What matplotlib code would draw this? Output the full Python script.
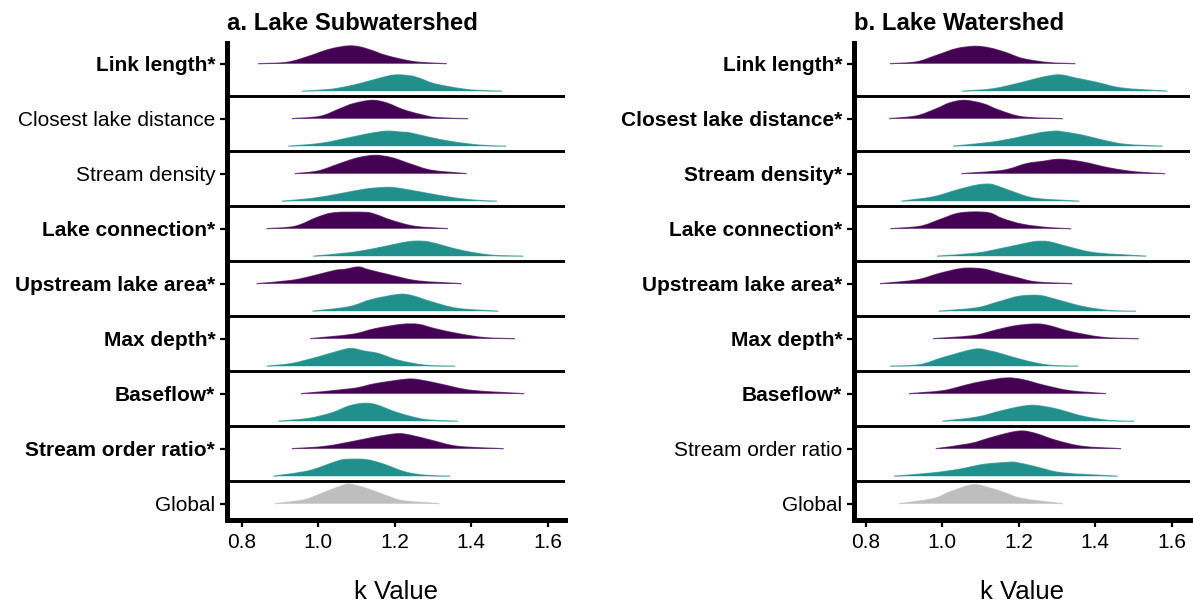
import numpy as np
import matplotlib
matplotlib.use("Agg")
import matplotlib.pyplot as plt
from matplotlib.path import Path
from matplotlib.patches import PathPatch

plt.rcParams['font.family'] = ['Liberation Sans', 'DejaVu Sans']

# Predictors, listed top to bottom; "Global" sits below them.
predictors = ["Link length", "Closest lake distance", "Stream density",
              "Lake connection", "Upstream lake area", "Max depth",
              "Baseflow", "Stream order ratio"]
global_label = "Global"

# Significant differences (marked with * and bold)
sub_signif = [True, False, False, True, True, True, True, True]
ws_signif = [True, True, True, True, True, True, True, False]

x_ticks = [0.8, 1.0, 1.2, 1.4, 1.6]

# ---- a. Lake Subwatershed: posterior density of k (knots: k value, density)
sub_low_k = [
    [0.843, 0.918, 0.979, 1.005, 1.039, 1.079, 1.109, 1.144, 1.170, 1.222, 1.266, 1.336],
    [0.931, 1.005, 1.057, 1.092, 1.140, 1.179, 1.222, 1.266, 1.310, 1.392],
    [0.939, 1.000, 1.061, 1.105, 1.149, 1.192, 1.244, 1.297, 1.388],
    [0.865, 0.939, 1.000, 1.044, 1.122, 1.149, 1.192, 1.253, 1.339],
    [0.839, 0.931, 0.992, 1.044, 1.070, 1.105, 1.131, 1.192, 1.262, 1.375],
    [0.979, 1.088, 1.149, 1.218, 1.262, 1.305, 1.366, 1.436, 1.514],
    [0.955, 1.088, 1.149, 1.227, 1.262, 1.323, 1.401, 1.538],
    [0.931, 1.018, 1.105, 1.157, 1.209, 1.244, 1.297, 1.366, 1.485],
]
sub_low_d = [
    [0, 0.43, 2.60, 3.80, 5.10, 5.90, 5.57, 4.23, 3.00, 1.33, 0.43, 0],
    [0, 0.77, 3.33, 5.00, 6.10, 5.23, 3.00, 1.43, 0.33, 0],
    [0, 0.90, 3.57, 5.33, 6.10, 5.33, 3.10, 1.10, 0],
    [0, 0.77, 3.90, 5.33, 5.43, 4.77, 2.77, 0.77, 0],
    [0, 1.10, 2.77, 4.43, 4.77, 5.57, 4.67, 2.77, 0.90, 0],
    [0, 1.43, 3.33, 4.77, 4.77, 3.33, 1.67, 0.33, 0],
    [0, 1.67, 3.33, 4.77, 4.67, 3.10, 1.10, 0],
    [0, 0.77, 2.77, 4.10, 5.00, 4.43, 2.77, 0.77, 0],
]
sub_high_k = [
    [0.957, 1.031, 1.092, 1.135, 1.196, 1.240, 1.266, 1.301, 1.353, 1.406, 1.480],
    [0.922, 1.005, 1.092, 1.135, 1.179, 1.218, 1.240, 1.292, 1.353, 1.423, 1.491],
    [0.905, 0.983, 1.061, 1.122, 1.175, 1.209, 1.279, 1.349, 1.410, 1.467],
    [0.987, 1.079, 1.149, 1.218, 1.253, 1.288, 1.332, 1.384, 1.454, 1.536],
    [0.985, 1.079, 1.140, 1.209, 1.244, 1.297, 1.366, 1.471],
    [0.865, 0.931, 1.000, 1.061, 1.088, 1.122, 1.157, 1.209, 1.279, 1.358],
    [0.896, 0.974, 1.035, 1.079, 1.114, 1.149, 1.209, 1.279, 1.365],
    [0.883, 0.974, 1.044, 1.070, 1.122, 1.166, 1.227, 1.279, 1.345],
]
sub_high_d = [
    [0, 0.57, 2.00, 3.43, 5.33, 5.10, 4.23, 2.57, 1.23, 0.33, 0],
    [0, 0.90, 3.10, 4.23, 5.00, 4.67, 4.43, 2.90, 1.43, 0.33, 0],
    [0, 0.90, 2.57, 4.00, 4.57, 4.33, 2.77, 1.23, 0.33, 0],
    [0, 1.10, 2.57, 4.43, 5.00, 4.77, 3.33, 1.67, 0.33, 0],
    [0, 1.43, 3.90, 5.57, 5.23, 3.10, 0.90, 0],
    [0, 0.90, 3.10, 5.33, 5.90, 5.00, 4.23, 2.00, 0.33, 0],
    [0, 0.90, 2.77, 5.00, 5.90, 5.57, 2.77, 0.57, 0],
    [0, 1.77, 4.77, 5.57, 5.57, 4.23, 1.43, 0.33, 0],
]
sub_global_k = [0.887, 0.952, 0.979, 1.022, 1.057, 1.079, 1.109, 1.144, 1.179, 1.222, 1.317]
sub_global_d = [0, 1.00, 1.90, 4.10, 5.77, 6.57, 5.77, 4.33, 2.67, 1.00, 0]

# ---- b. Lake Watershed
ws_low_k = [
    [0.863, 0.932, 0.985, 1.037, 1.085, 1.124, 1.167, 1.211, 1.280, 1.348],
    [0.861, 0.932, 0.985, 1.019, 1.058, 1.106, 1.150, 1.211, 1.315],
    [1.050, 1.158, 1.220, 1.263, 1.307, 1.367, 1.437, 1.507, 1.583],
    [0.864, 0.941, 0.993, 1.037, 1.080, 1.124, 1.158, 1.211, 1.280, 1.337],
    [0.837, 0.932, 0.993, 1.054, 1.106, 1.141, 1.193, 1.246, 1.340],
    [0.976, 1.080, 1.141, 1.193, 1.246, 1.280, 1.333, 1.420, 1.514],
    [0.913, 1.002, 1.063, 1.106, 1.167, 1.211, 1.263, 1.333, 1.428],
    [0.983, 1.072, 1.124, 1.176, 1.211, 1.246, 1.298, 1.367, 1.468],
]
ws_low_d = [
    [0, 0.57, 2.77, 5.00, 5.77, 5.23, 3.67, 1.67, 0.33, 0],
    [0, 0.90, 3.33, 5.23, 6.10, 5.00, 2.77, 0.57, 0],
    [0, 1.10, 3.33, 4.10, 4.77, 3.90, 1.90, 0.57, 0],
    [0, 0.77, 3.00, 5.00, 5.57, 5.23, 3.33, 1.43, 0.33, 0],
    [0, 1.23, 3.43, 5.10, 4.90, 3.77, 2.10, 0.57, 0],
    [0, 1.00, 2.90, 4.33, 4.90, 4.33, 2.43, 0.43, 0],
    [0, 1.00, 2.90, 4.10, 5.23, 4.67, 2.90, 1.00, 0],
    [0, 1.67, 3.57, 5.33, 5.90, 5.00, 2.77, 0.77, 0],
]
ws_high_k = [
    [1.051, 1.132, 1.211, 1.263, 1.307, 1.350, 1.402, 1.472, 1.589],
    [1.028, 1.124, 1.193, 1.254, 1.298, 1.315, 1.367, 1.420, 1.481, 1.576],
    [0.893, 0.976, 1.037, 1.089, 1.124, 1.150, 1.193, 1.246, 1.359],
    [0.986, 1.089, 1.158, 1.211, 1.246, 1.280, 1.333, 1.402, 1.534],
    [0.991, 1.089, 1.150, 1.202, 1.254, 1.298, 1.367, 1.437, 1.507],
    [0.863, 0.941, 1.002, 1.085, 1.124, 1.158, 1.220, 1.280, 1.355],
    [1.000, 1.089, 1.158, 1.211, 1.246, 1.298, 1.367, 1.437, 1.502],
    [0.874, 0.976, 1.045, 1.106, 1.167, 1.193, 1.246, 1.315, 1.459],
]
ws_high_d = [
    [0, 0.77, 3.00, 4.67, 5.43, 4.33, 3.00, 1.00, 0],
    [0, 1.23, 2.77, 4.43, 5.00, 4.77, 3.67, 2.00, 0.57, 0],
    [0, 1.43, 3.67, 5.33, 5.67, 4.77, 2.77, 0.90, 0],
    [0, 1.00, 2.67, 4.10, 4.90, 4.77, 3.00, 1.10, 0],
    [0, 1.10, 3.23, 5.00, 5.23, 3.90, 1.57, 0.23, 0],
    [0, 0.50, 2.90, 5.67, 5.10, 4.00, 1.77, 0.33, 0],
    [0, 1.33, 3.57, 5.00, 5.23, 4.10, 1.67, 0.23, 0],
    [0, 1.10, 2.33, 3.90, 4.57, 4.57, 3.10, 1.10, 0],
]
ws_global_k = [0.887, 0.976, 1.019, 1.080, 1.124, 1.158, 1.211, 1.315]
ws_global_d = [0, 1.67, 3.90, 6.33, 5.23, 3.90, 1.67, 0]

LOW_COLOR = "#440154"
HIGH_COLOR = "#21908C"
GLOBAL_COLOR = "#BEBEBE"
RIDGE_SCALE = 0.0545      # density -> row height
HIGH_OFFSET = 0.5         # second ridge sits half a row below
SEP_OFFSET = 0.59         # separator line below each predictor row


def ridge_curve(k, top, base):
    """Cubic Bezier segments (Catmull-Rom handles) through the density knots."""
    pts = np.column_stack([k, top])
    n = len(pts)
    verts = [pts[0]]
    codes = [Path.MOVETO]
    for i in range(n - 1):
        p0 = pts[i - 1] if i > 0 else pts[i]
        p1, p2 = pts[i], pts[i + 1]
        p3 = pts[i + 2] if i + 2 < n else pts[i + 1]
        c1 = p1 + (p2 - p0) / 6.0
        c2 = p2 - (p3 - p1) / 6.0
        c1[1] = max(c1[1], base)
        c2[1] = max(c2[1], base)
        verts += [c1, c2, p2]
        codes += [Path.CURVE4] * 3
    return verts, codes


def ridge(ax, k, d, base, color):
    k = np.asarray(k, float)
    top = base + RIDGE_SCALE * np.asarray(d, float)
    verts, codes = ridge_curve(k, top, base)
    fill_verts = verts + [(k[-1], base), (k[0], base), (k[0], base)]
    fill_codes = codes + [Path.LINETO, Path.LINETO, Path.CLOSEPOLY]
    ax.add_patch(PathPatch(Path(fill_verts, fill_codes), facecolor=color,
                           edgecolor="none", zorder=2))
    ax.add_patch(PathPatch(Path(verts, codes), facecolor="none",
                           edgecolor=color, lw=0.9, alpha=0.7, zorder=2))


def panel(ax, low_k, low_d, high_k, high_d, g_k, g_d, signif):
    n = len(predictors)
    for i in range(n):
        y = n - i
        ridge(ax, low_k[i], low_d[i], y, LOW_COLOR)
        ridge(ax, high_k[i], high_d[i], y - HIGH_OFFSET, HIGH_COLOR)
        ax.axhline(y - SEP_OFFSET, color="black", lw=2.1, zorder=3)
    ridge(ax, g_k, g_d, 0, GLOBAL_COLOR)

    labels = [p + ("*" if s else "") for p, s in zip(predictors, signif)]
    ax.set_yticks(list(range(n, 0, -1)) + [0])
    ax.set_yticklabels(labels + [global_label])
    for t, s in zip(ax.get_yticklabels(), list(signif) + [False]):
        t.set_fontweight("bold" if s else "normal")
        t.set_color("black")

    ax.set_xticks(x_ticks)
    ax.set_xticklabels([f"{v:.1f}" for v in x_ticks])
    ax.set_ylim(-0.296, 8.37)
    for side in ("top", "right"):
        ax.spines[side].set_visible(False)
    for side in ("left", "bottom"):
        ax.spines[side].set_linewidth(3.6)
        ax.spines[side].set_color("black")
    ax.tick_params(axis="both", which="major", length=5, width=1.6,
                   colors="black", labelsize=15, pad=4)
    ax.tick_params(axis="y", pad=3.5)


fig = plt.figure(figsize=(11.93, 6.05), dpi=100)
W, H = 1193.0, 605.0

ax1 = fig.add_axes([227 / W, 85 / H, 338 / W, 476.7 / H])
ax2 = fig.add_axes([854 / W, 85 / H, 336 / W, 476.7 / H])

panel(ax1, sub_low_k, sub_low_d, sub_high_k, sub_high_d,
      sub_global_k, sub_global_d, sub_signif)
ax1.set_xlim(0.7616, 1.645)

panel(ax2, ws_low_k, ws_low_d, ws_high_k, ws_high_d,
      ws_global_k, ws_global_d, ws_signif)
ax2.set_xlim(0.769, 1.648)

for ax, title in ((ax1, "a. Lake Subwatershed"), (ax2, "b. Lake Watershed")):
    pos = ax.get_position()
    fig.text(pos.x0, 1 - 30 / H, title, ha="left", va="baseline",
             fontsize=17.2, fontweight="bold")
    fig.text((pos.x0 + pos.x1) / 2, 6 / H, "k Value", ha="center",
             va="baseline", fontsize=18.5)

fig.savefig("out.png", dpi=100)
